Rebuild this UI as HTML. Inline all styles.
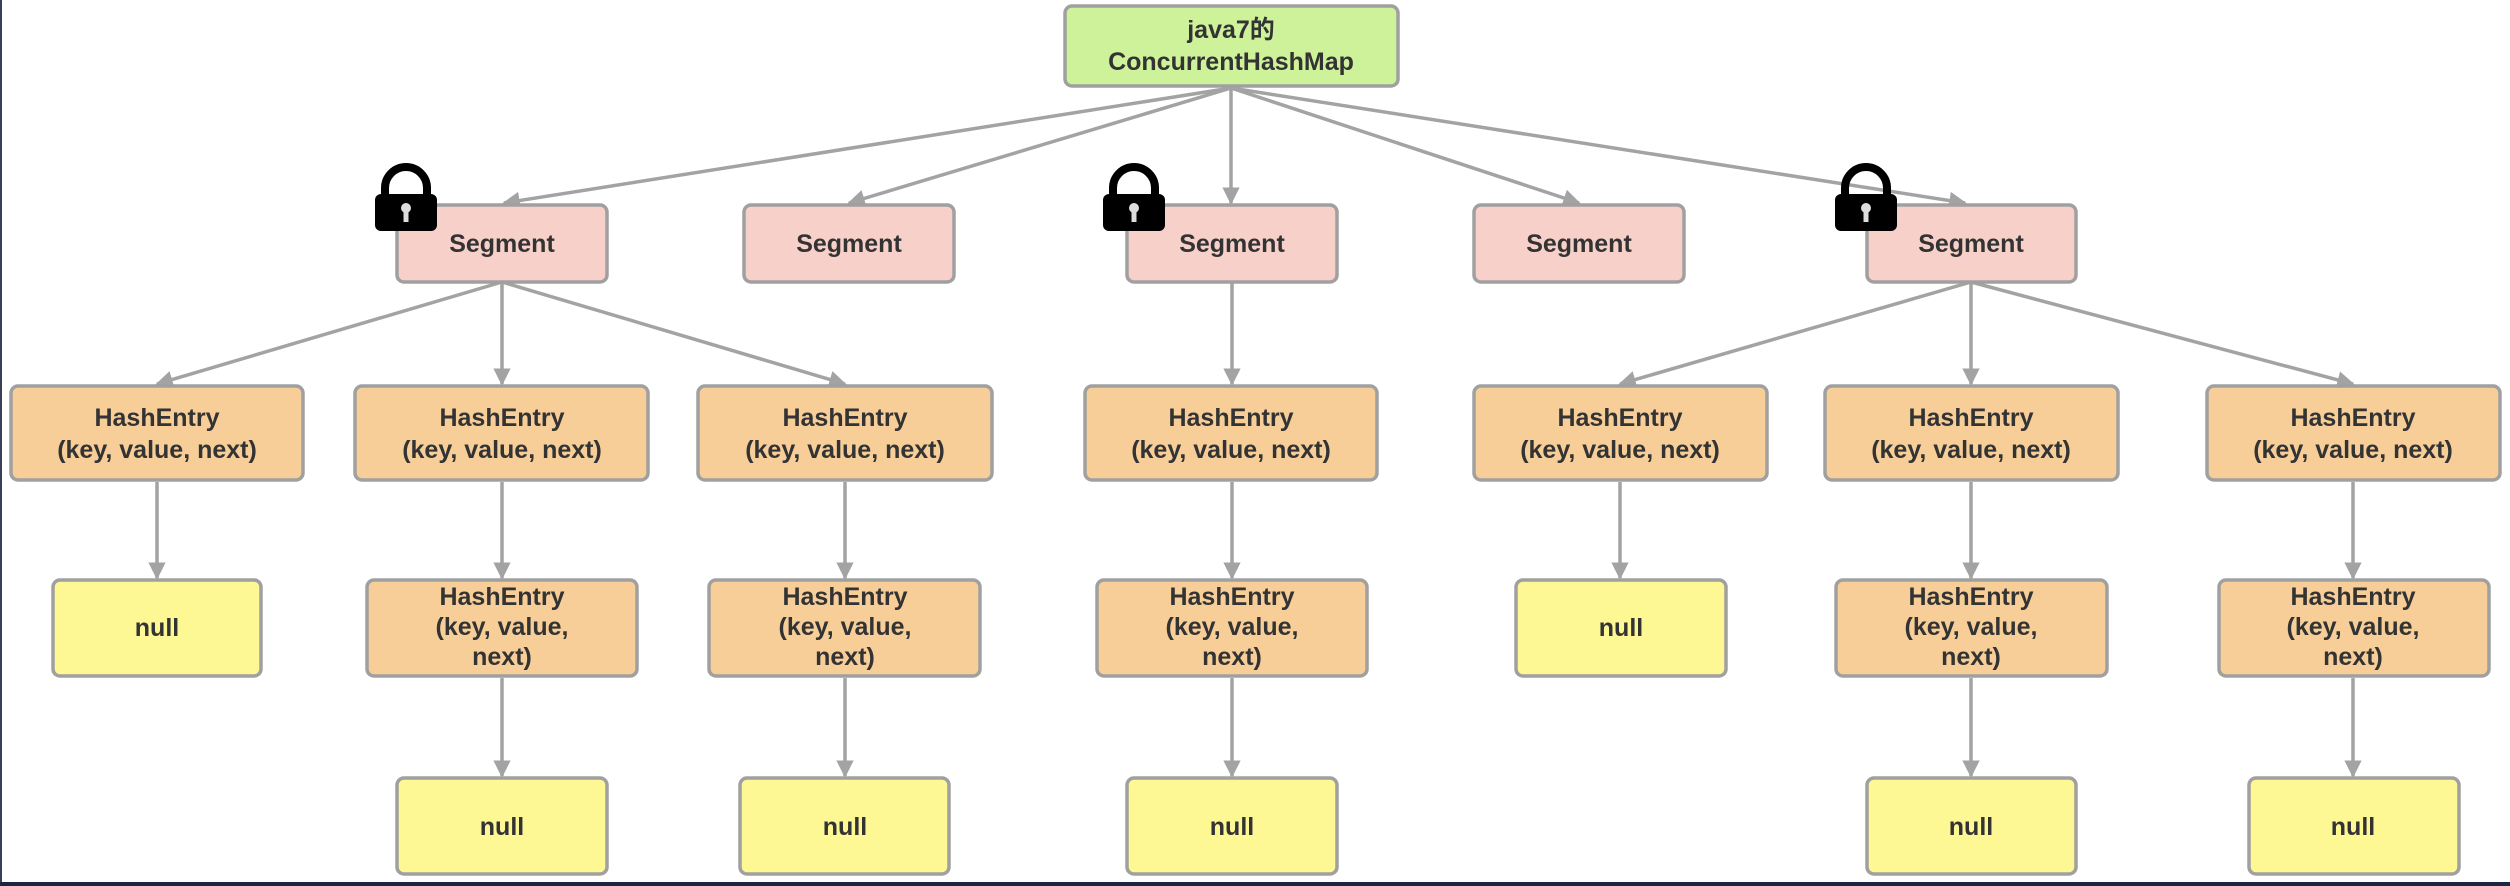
<!DOCTYPE html>
<html><head><meta charset="utf-8"><style>
html,body{margin:0;padding:0;background:#fff}
svg{display:block}
text{font-family:"Liberation Sans","Noto Sans CJK SC",sans-serif;font-weight:bold;font-size:25px;fill:#333;text-anchor:middle}
.b{stroke:#a0a0a0;stroke-width:3.5;rx:7}
.l{stroke:#a3a3a3;stroke-width:3.5;fill:none;marker-end:url(#ah)}
</style></head><body>
<svg width="2510" height="886" viewBox="0 0 2510 886" xmlns="http://www.w3.org/2000/svg">
<defs>
<marker id="ah" viewBox="0 0 10 10" refX="9" refY="5" markerWidth="5" markerHeight="5" orient="auto" markerUnits="strokeWidth"><path d="M0,0 L10,5 L0,10 z" fill="#a3a3a3"/></marker>
<g id="lock"><path d="M10,24 V16 a21,21 0 0 1 42,0 V24" fill="none" stroke="#000" stroke-width="8"/><rect x="0" y="22" width="62" height="37" rx="6" fill="#000"/><circle cx="31" cy="36" r="5" fill="#ddd"/><rect x="28.5" y="36" width="5" height="14" fill="#ddd"/></g>
</defs>
<rect x="0" y="0" width="2" height="886" fill="#3a3f55"/>
<rect x="0" y="882" width="2510" height="4" fill="#1e2540"/>
<!-- connectors root -> segments -->
<path class="l" d="M1231,88 L504,203"/>
<path class="l" d="M1231,88 L849,203"/>
<path class="l" d="M1231,88 L1231,203"/>
<path class="l" d="M1231,88 L1579,203"/>
<path class="l" d="M1231,88 L1965,203"/>
<!-- segment -> entries -->
<path class="l" d="M502,282 L157,384"/>
<path class="l" d="M502,282 L502,384"/>
<path class="l" d="M502,282 L845,384"/>
<path class="l" d="M1232,282 L1232,384"/>
<path class="l" d="M1971,282 L1620,384"/>
<path class="l" d="M1971,282 L1971,384"/>
<path class="l" d="M1971,282 L2353,384"/>
<!-- row1 -> row2 -->
<path class="l" d="M157,482 L157,578"/>
<path class="l" d="M502,482 L502,578"/>
<path class="l" d="M845,482 L845,578"/>
<path class="l" d="M1232,482 L1232,578"/>
<path class="l" d="M1620,482 L1620,578"/>
<path class="l" d="M1971,482 L1971,578"/>
<path class="l" d="M2353,482 L2353,578"/>
<!-- row2 -> row3 -->
<path class="l" d="M502,678 L502,776"/>
<path class="l" d="M845,678 L845,776"/>
<path class="l" d="M1232,678 L1232,776"/>
<path class="l" d="M1971,678 L1971,776"/>
<path class="l" d="M2353,678 L2353,776"/>
<!-- root -->
<rect class="b" x="1065" y="6" width="333" height="80" fill="#cdf29a"/>
<text x="1231" y="38">java7的</text><text x="1231" y="70">ConcurrentHashMap</text>
<!-- segments -->
<g fill="#f8d0ca">
<rect class="b" x="397" y="205" width="210" height="77"/>
<rect class="b" x="744" y="205" width="210" height="77"/>
<rect class="b" x="1127" y="205" width="210" height="77"/>
<rect class="b" x="1474" y="205" width="210" height="77"/>
<rect class="b" x="1867" y="205" width="209" height="77"/>
</g>
<text x="502" y="252">Segment</text><text x="849" y="252">Segment</text><text x="1232" y="252">Segment</text><text x="1579" y="252">Segment</text><text x="1971" y="252">Segment</text>
<!-- row1 entries -->
<g fill="#f7ce98">
<rect class="b" x="11" y="386" width="292" height="94"/>
<rect class="b" x="355" y="386" width="293" height="94"/>
<rect class="b" x="698" y="386" width="294" height="94"/>
<rect class="b" x="1085" y="386" width="292" height="94"/>
<rect class="b" x="1474" y="386" width="293" height="94"/>
<rect class="b" x="1825" y="386" width="293" height="94"/>
<rect class="b" x="2207" y="386" width="293" height="94"/>
</g>
<g>
<text x="157" y="426">HashEntry</text><text x="157" y="458">(key, value, next)</text>
<text x="502" y="426">HashEntry</text><text x="502" y="458">(key, value, next)</text>
<text x="845" y="426">HashEntry</text><text x="845" y="458">(key, value, next)</text>
<text x="1231" y="426">HashEntry</text><text x="1231" y="458">(key, value, next)</text>
<text x="1620" y="426">HashEntry</text><text x="1620" y="458">(key, value, next)</text>
<text x="1971" y="426">HashEntry</text><text x="1971" y="458">(key, value, next)</text>
<text x="2353" y="426">HashEntry</text><text x="2353" y="458">(key, value, next)</text>
</g>
<!-- row2 -->
<g fill="#fdf794">
<rect class="b" x="53" y="580" width="208" height="96"/>
<rect class="b" x="1516" y="580" width="210" height="96"/>
<rect class="b" x="397" y="778" width="210" height="96"/>
<rect class="b" x="740" y="778" width="209" height="96"/>
<rect class="b" x="1127" y="778" width="210" height="96"/>
<rect class="b" x="1867" y="778" width="209" height="96"/>
<rect class="b" x="2249" y="778" width="210" height="96"/>
</g>
<g fill="#f7ce98">
<rect class="b" x="367" y="580" width="270" height="96"/>
<rect class="b" x="709" y="580" width="271" height="96"/>
<rect class="b" x="1097" y="580" width="270" height="96"/>
<rect class="b" x="1836" y="580" width="271" height="96"/>
<rect class="b" x="2219" y="580" width="270" height="96"/>
</g>
<text x="157" y="636">null</text><text x="1621" y="636">null</text>
<g>
<text x="502" y="605">HashEntry</text><text x="502" y="635">(key, value,</text><text x="502" y="665">next)</text>
<text x="845" y="605">HashEntry</text><text x="845" y="635">(key, value,</text><text x="845" y="665">next)</text>
<text x="1232" y="605">HashEntry</text><text x="1232" y="635">(key, value,</text><text x="1232" y="665">next)</text>
<text x="1971" y="605">HashEntry</text><text x="1971" y="635">(key, value,</text><text x="1971" y="665">next)</text>
<text x="2353" y="605">HashEntry</text><text x="2353" y="635">(key, value,</text><text x="2353" y="665">next)</text>
</g>
<text x="502" y="835">null</text><text x="845" y="835">null</text><text x="1232" y="835">null</text><text x="1971" y="835">null</text><text x="2353" y="835">null</text>
<!-- locks -->
<use href="#lock" x="375" y="172"/>
<use href="#lock" x="1103" y="172"/>
<use href="#lock" x="1835" y="172"/>
</svg>
</body></html>
